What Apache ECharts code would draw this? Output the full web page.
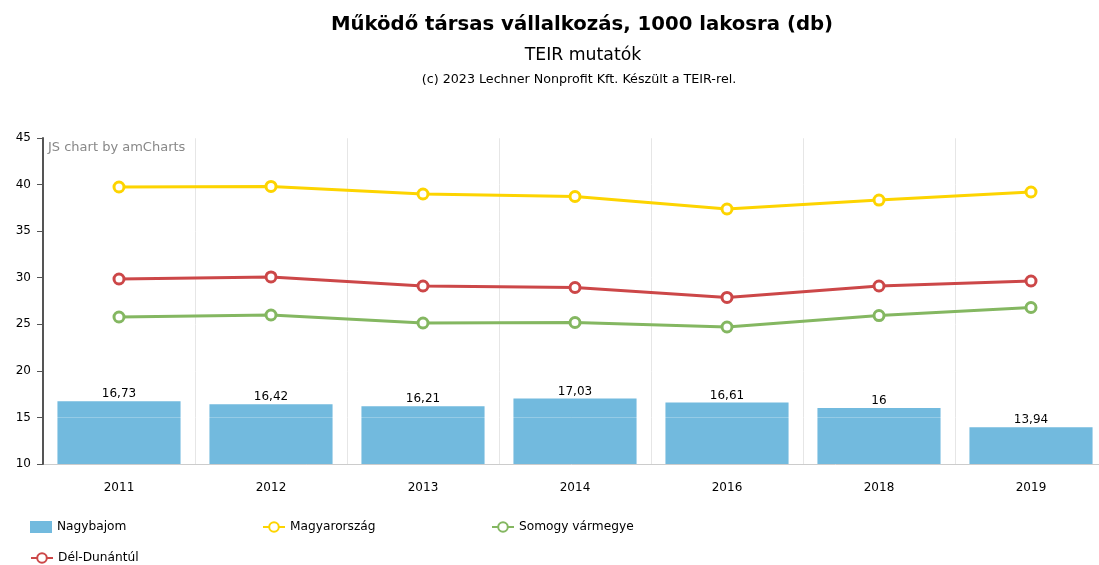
<!DOCTYPE html>
<html><head><meta charset="utf-8">
<script src="https://cdn.jsdelivr.net/npm/echarts@6/dist/echarts.min.js"></script>
<style>html,body{margin:0;padding:0;background:#fff}#c{width:1099px;height:565px}</style>
</head><body><div id="c"></div>
<script>
const categories = ['2011','2012','2013','2014','2016','2018','2019'];
const nagybajom = [16.73, 16.42, 16.21, 17.03, 16.61, 16, 13.94];
const magyarorszag = [39.74, 39.8, 38.99, 38.72, 37.38, 38.34, 39.2];
const somogy = [25.78, 26.0, 25.14, 25.19, 24.71, 25.94, 26.8];
const delDunantul = [29.86, 30.08, 29.11, 28.95, 27.88, 29.11, 29.65];
const yTicks = {min: 10, max: 45, interval: 5};

const font = '"DejaVu Sans"';
const chart = echarts.init(document.getElementById('c'));
function lineSeries(name, data, color){
  return {name, type:'line', data, z:5,
    symbol:'circle', symbolSize:10, showAllSymbol:true,
    lineStyle:{color, width:3},
    itemStyle:{color:'#fff', borderColor:color, borderWidth:3},
    emphasis:{disabled:true}};
}
const legendBase = {orient:'horizontal', padding:0, itemWidth:22, itemHeight:12, itemGap:6, textStyle:{fontFamily:font, fontSize:12.2, color:'#000'}, selectedMode:false};
chart.setOption({
  animation:false,
  textStyle:{fontFamily:font},
  title:[
    {text:'Működő társas vállalkozás, 1000 lakosra (db)', left:577, textAlign:'center', top:10, textStyle:{fontFamily:font, fontSize:19.7, fontWeight:'bold', color:'#000'}},
    {text:'TEIR mutatók', left:578, textAlign:'center', top:42, textStyle:{fontFamily:font, fontSize:17.3, fontWeight:'normal', color:'#000'}},
    {text:'(c) 2023 Lechner Nonprofit Kft. Készült a TEIR-rel.', left:574, textAlign:'center', top:68, textStyle:{fontFamily:font, fontSize:12.7, fontWeight:'normal', color:'#000'}}
  ],
  graphic:[{type:'text', left:48, top:141, style:{text:'JS chart by amCharts', fill:'#888', font:'13px "DejaVu Sans"'}}],
  grid:{left:43, width:1064, top:138, bottom:101, containLabel:false, outerBoundsMode:'none'},
  legend:[
    Object.assign({}, legendBase, {left:30, top:521, data:[{name:'Nagybajom', icon:'rect'}]}),
    Object.assign({}, legendBase, {left:262, top:521, data:[{name:'Magyarország'}]}),
    Object.assign({}, legendBase, {left:491, top:521, data:[{name:'Somogy vármegye'}]}),
    Object.assign({}, legendBase, {left:30, top:552, data:[{name:'Dél-Dunántúl'}]})
  ],
  xAxis:{type:'category', data:categories,
    axisLine:{lineStyle:{color:'#bbb', width:1}},
    axisTick:{alignWithLabel:true, length:5, lineStyle:{color:'#bbb'}},
    axisLabel:{fontFamily:font, fontSize:12, color:'#000', margin:18},
    splitLine:{show:true, lineStyle:{color:'#e6e6e6'}}},
  yAxis:{type:'value', min:yTicks.min, max:yTicks.max, interval:yTicks.interval,
    axisLine:{show:true, lineStyle:{color:'#555', width:2}},
    axisTick:{show:true, length:6, lineStyle:{color:'#555'}},
    axisLabel:{fontFamily:font, fontSize:12, color:'#000', margin:12},
    splitLine:{show:true, lineStyle:{color:'rgba(255,255,255,0.25)'}}, z:3},
  series:[
    {name:'Nagybajom', type:'bar', data:nagybajom, barWidth:'81%', z:2,
      itemStyle:{color:'#72bade'},
      label:{show:true, position:'top', distance:1, fontFamily:font, fontSize:12, color:'#000',
        formatter:p=>String(p.value).replace('.',',')},
      emphasis:{disabled:true}},
    lineSeries('Magyarország', magyarorszag, '#fdd400'),
    lineSeries('Somogy vármegye', somogy, '#84b761'),
    lineSeries('Dél-Dunántúl', delDunantul, '#cc4748')
  ]
});
</script></body></html>
